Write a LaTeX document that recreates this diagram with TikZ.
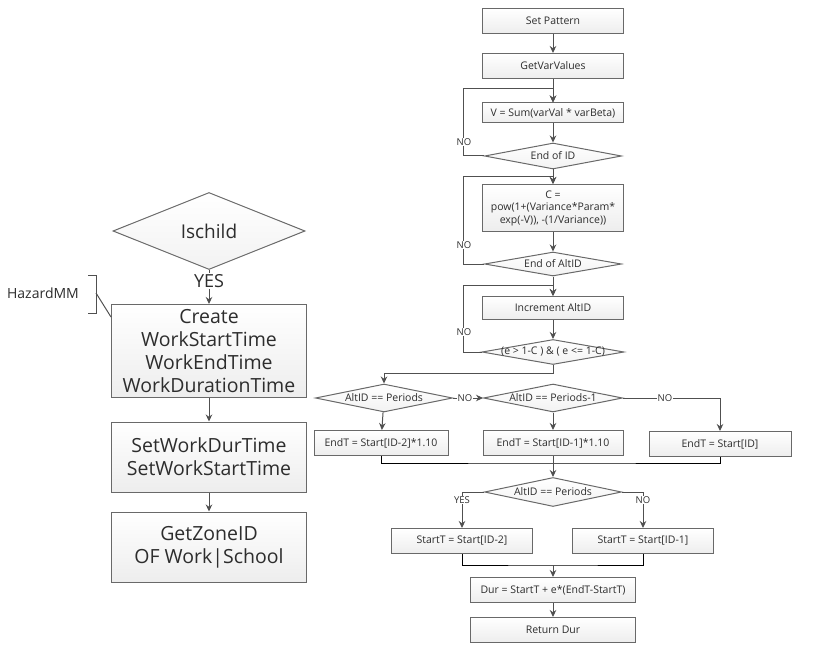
\documentclass[tikz,border=0pt]{standalone}
\usepackage{fontspec}
\setmainfont{Open Sans}
\usepackage{tikz}
\usetikzlibrary{arrows,arrows.meta,calc,positioning,shapes.geometric}
\definecolor{ln}{RGB}{80,80,80}
\definecolor{bx}{RGB}{105,105,105}
\definecolor{tx}{RGB}{45,45,45}

\begin{document}
\begin{tikzpicture}[x=1pt,y=-1pt,>={Stealth[length=7pt,width=6.5pt]},line width=1pt,
	box/.style={rectangle,draw=bx,top color=white,bottom color=gray!14,minimum width=141,minimum height=25,inner sep=1,text=tx,font=\fontsize{10.5}{12.5}\selectfont,align=center},
	big/.style={box,minimum width=195,font=\fontsize{19.5}{23}\selectfont},
	dec/.style={diamond,draw=bx,top color=white,bottom color=gray!10,minimum width=137,minimum height=26,inner sep=0},
	dtext/.style={text=tx,font=\fontsize{10.5}{12}\selectfont},
	lbl/.style={fill=white,inner sep=1,text=tx,font=\fontsize{9.5}{11}\selectfont},
	con/.style={->,draw=ln}]
	\useasboundingbox (0,0) rectangle (813,647);
	% right column
	\node[box] (sp) at (553,21) {Set Pattern};
	\node[box] (gv) at (553,66) {GetVarValues};
	\node[box,minimum height=20] (vs) at (553,113) {V = Sum(varVal * varBeta)};
	\node[dec,label={[dtext]center:End of ID}] (eid) at (553,156) {};
	\node[box,minimum height=47] (cc) at (553,208) {C =\\pow(1+(Variance*Param*\\exp(-V)), -(1/Variance))};
	\node[dec,minimum height=24,label={[dtext]center:End of AltID}] (ealt) at (553,264) {};
	\node[box,minimum height=23] (inc) at (553,308) {Increment AltID};
	\node[dec,minimum width=142,minimum height=25,label={[dtext]center:(e > 1-C ) \& ( e <= 1-C)}] (ec) at (553,352) {};
	\node[dec,minimum height=28,label={[dtext]center:AltID == Periods}] (alt1) at (384,398) {};
	\node[dec,minimum width=139,minimum height=28,label={[dtext]center:AltID == Periods-1}] (alt2) at (553,398) {};
	\node[box,minimum width=134] (e1) at (381,443) {EndT = Start[ID-2]*1.10};
	\node[box,minimum width=140] (e2) at (553,443) {EndT = Start[ID-1]*1.10};
	\node[box,minimum width=142] (e3) at (720,444) {EndT = Start[ID]};
	\node[dec,minimum height=29,label={[dtext]center:AltID == Periods}] (alt3) at (553,492) {};
	\node[box] (s1) at (462,541) {StartT = Start[ID-2]};
	\node[box] (s2) at (643,541) {StartT = Start[ID-1]};
	\node[box,minimum width=165] (dur) at (553,590) {Dur = StartT + e*(EndT-StartT)};
	\node[box,minimum width=165] (ret) at (553,630) {Return Dur};
	\coordinate (l1) at (463,89);
	\coordinate (l2) at (463,177);
	\coordinate (l3) at (463,285);
	\coordinate (j1) at (553,373);
	\coordinate (j2) at (553,463);
	\coordinate (j3) at (553,565);

	\draw[con] (sp) -- (gv);
	\draw[con] (gv) -- (vs);
	\draw[con] (vs) -- (eid);
	\draw[con] (eid) -- (cc);
	\draw[con] (cc) -- (ealt);
	\draw[con] (ealt) -- (inc);
	\draw[con] (inc) -- (ec);
	\draw[con] (eid.west) -| (l1) -| (vs.north);
	\draw[con] (ealt.west) -| (l2) -| (cc.north);
	\draw[con] (ec.west) -| (l3) -| (inc.north);
	\draw[con] (ec.south) -- (j1) -| (alt1.north);
	\draw[con] (alt1.east) -- (alt2.west);
	\draw[con] (alt2.east) -| (e3.north);
	\draw[con] (alt1) -- (e1);
	\draw[con] (alt2) -- (e2);
	\draw (e1.south) |- (j2) -| (e3.south);
	\draw[con] (e2) -- (alt3);
	\draw[con] (alt3.west) -| (s1.north);
	\draw[con] (alt3.east) -| (s2.north);
	\draw (s1.south) |- (j3) -| (s2.south);
	\draw[con] (j3) -- (dur.north);
	\draw[con] (dur) -- (ret);
	\node[lbl] (n1) at (464,142) {NO};
	\node[lbl] (n2) at (464,245) {NO};
	\node[lbl] (n3) at (464,332) {NO};
	\node[lbl] (n4) at (465,398) {NO};
	\node[lbl] (n5) at (665,398) {NO};
	\node[lbl] (y1) at (462,500) {YES};
	\node[lbl] (n6) at (643,500) {NO};

	% left column
	\node[dec,minimum width=192,minimum height=77,label={[text=tx,font=\fontsize{19}{22}\selectfont]center:Ischild}] (isc) at (209,231) {};
	\node[big,minimum height=93] (cr) at (209,351) {Create\\WorkStartTime\\WorkEndTime\\WorkDurationTime};
	\node[big,minimum height=70] (sw) at (209,457) {SetWorkDurTime\\SetWorkStartTime};
	\node[big,minimum height=70] (gz) at (209,547) {GetZoneID\\OF Work|School};
	\draw[con] (isc) -- (cr);
	\node[lbl,font=\fontsize{18}{20}\selectfont] (yes) at (209,281) {YES};
	\draw[con] (cr) -- (sw);
	\draw[con] (sw) -- (gz);
	\node[text=tx,font=\fontsize{14}{16}\selectfont] (hz) at (43,293) {HazardMM};
	\coordinate (hb) at (96,293);
	\draw[draw=ln] (88,275) -| (96,313) -- (88,313);
	\draw[draw=ln] (hb) -- ($(cr.north west)+(0,13)$);
\end{tikzpicture}
\end{document}
